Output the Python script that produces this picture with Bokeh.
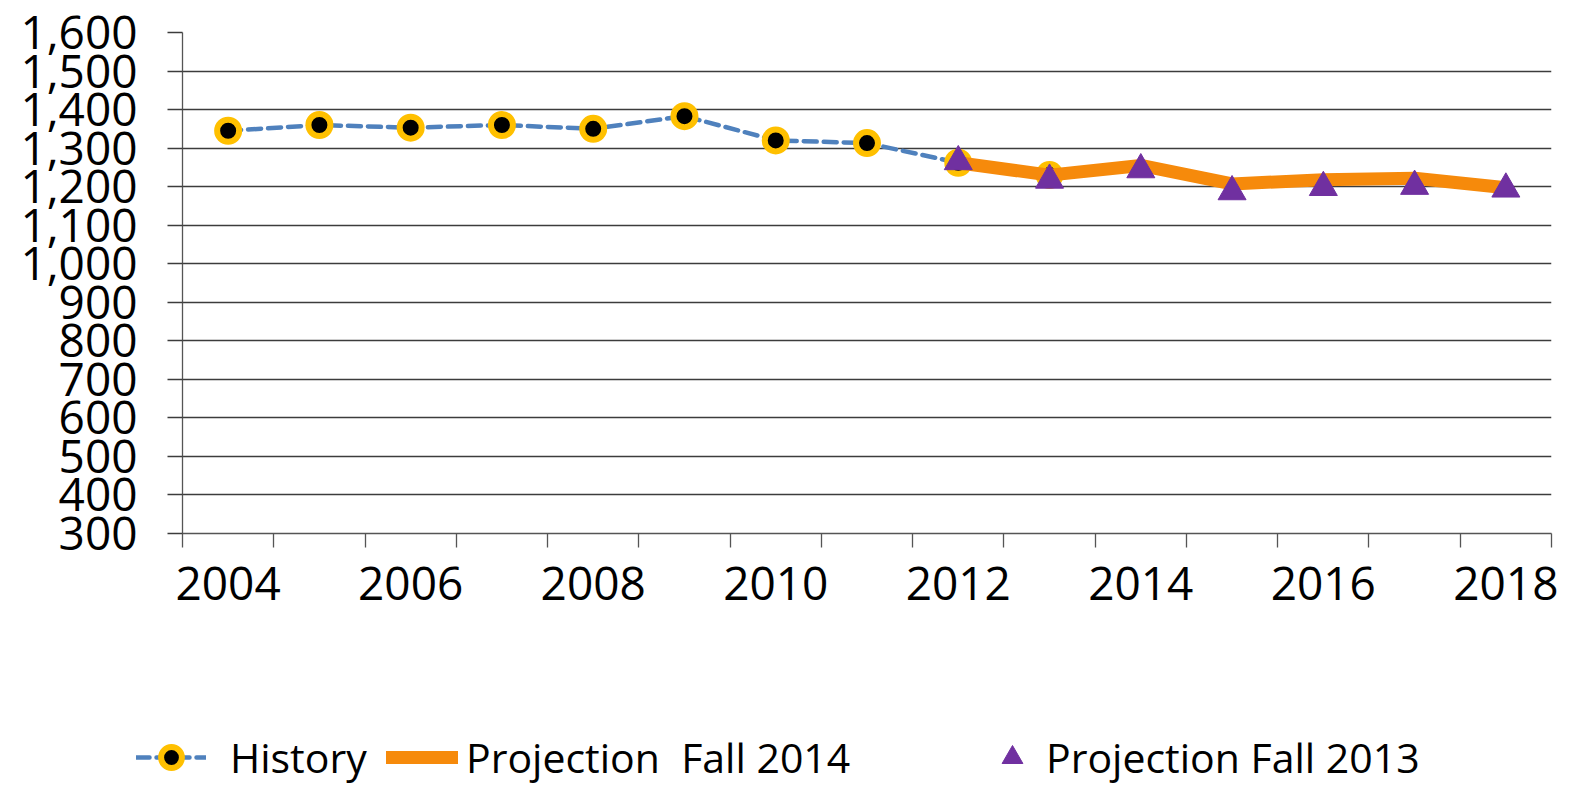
from bokeh.plotting import figure
from bokeh.models import Range1d, FixedTicker, NumeralTickFormatter, Legend, LegendItem, ColumnDataSource
from bokeh.embed import file_html
from bokeh.resources import INLINE

# ---- data ----
hist_years = [2004, 2005, 2006, 2007, 2008, 2009, 2010, 2011, 2012, 2013]
hist_values = [1345, 1360, 1353, 1360, 1350, 1383, 1320, 1313, 1262, 1230]

proj14_years = [2012, 2013, 2014, 2015, 2016, 2017, 2018]
proj14_values = [1262, 1230, 1255, 1207, 1218, 1222, 1197]

proj13_years = [2012, 2013, 2014, 2015, 2016, 2017, 2018]
proj13_values = [1265, 1217, 1244, 1187, 1198, 1201, 1194]

label_years = [2004, 2006, 2008, 2010, 2012, 2014, 2016, 2018]
boundary_ticks = [y - 0.5 for y in range(2004, 2020)]
y_ticks = list(range(300, 1700, 100))

series_names = ["History", "Projection  Fall 2014", "Projection Fall 2013"]

FONT = "Open Sans"
GRID = "#3c3c3c"
AX = "#555555"
BLUE, YELLOW, ORANGE, PURPLE = "#4F81BD", "#FFC000", "#F68A0B", "#7030A0"

W = 1572
H1 = 700
FRAME_LEFT, FRAME_RIGHT, FRAME_TOP, FRAME_BOTTOM = 182, 1551, 32, 533

p = figure(width=W, height=H1, output_backend="svg", toolbar_location=None,
           x_range=Range1d(2003.5, 2018.5), y_range=Range1d(300, 1600),
           min_border_left=FRAME_LEFT, min_border_right=W - FRAME_RIGHT,
           min_border_top=FRAME_TOP, min_border_bottom=H1 - FRAME_BOTTOM)
p.outline_line_color = None
p.xgrid.grid_line_color = None
p.ygrid.grid_line_color = GRID
p.ygrid.grid_line_width = 1.3
p.ygrid.ticker = FixedTicker(ticks=y_ticks)

# y axis
p.yaxis.ticker = FixedTicker(ticks=y_ticks)
p.yaxis.formatter = NumeralTickFormatter(format="0,0")
p.yaxis.major_tick_out = 15
p.yaxis.major_tick_in = 0
p.yaxis.minor_tick_line_color = None
p.yaxis.major_tick_line_color = GRID
p.yaxis.major_tick_line_width = 1.3
p.yaxis.axis_line_color = AX
p.yaxis.axis_line_width = 1.3
p.yaxis.major_label_standoff = 30
p.yaxis.major_label_text_font = FONT
p.yaxis.major_label_text_font_size = "46px"
p.yaxis.major_label_text_color = "black"

# x axis
p.xaxis.ticker = FixedTicker(ticks=label_years, minor_ticks=boundary_ticks)
p.xaxis.major_tick_line_color = None
p.xaxis.major_tick_out = 14
p.xaxis.major_tick_in = 0
p.xaxis.minor_tick_out = 14
p.xaxis.minor_tick_in = 0
p.xaxis.minor_tick_line_color = AX
p.xaxis.minor_tick_line_width = 1.3
p.xaxis.axis_line_color = AX
p.xaxis.axis_line_width = 1.3
p.xaxis.major_label_standoff = 19
p.xaxis.major_label_text_font = FONT
p.xaxis.major_label_text_font_size = "46px"
p.xaxis.major_label_text_color = "black"

hist_src = ColumnDataSource(dict(x=hist_years, y=hist_values))
p14_src = ColumnDataSource(dict(x=proj14_years, y=proj14_values))
p13_src = ColumnDataSource(dict(x=proj13_years, y=proj13_values))

line_hist = dict(line_color=BLUE, line_width=4.5, line_dash="13 7", line_cap="round")
mark_hist = dict(marker="circle", size=22, fill_color="black", line_color=YELLOW, line_width=6)
line_p14 = dict(line_color=ORANGE, line_width=13)
mark_p13 = dict(marker="triangle", size=28, fill_color=PURPLE, line_color=PURPLE, line_width=1)

p.line("x", "y", source=hist_src, **line_hist)
p.scatter("x", "y", source=hist_src, **mark_hist)
p.line("x", "y", source=p14_src, **line_p14)
p.scatter("x", "y", source=p13_src, **mark_p13)

# ---- legend strip: separate root below the chart. Its renderers reuse the series
# sources, but its ranges exclude the data, so only the legend keys show. ----
H2 = 85
lg = figure(width=W, height=H2, output_backend="svg", toolbar_location=None,
            x_axis_type=None, y_axis_type=None, x_range=Range1d(0, 1), y_range=Range1d(0, 1),
            min_border_left=0, min_border_right=0, min_border_top=0, min_border_bottom=0)
lg.outline_line_color = None
lg.grid.grid_line_color = None
r_hl = lg.line("x", "y", source=hist_src, **line_hist)
r_hm = lg.scatter("x", "y", source=hist_src, **mark_hist)
r_pl = lg.line("x", "y", source=p14_src, **dict(line_p14, line_cap="round"))
r_pm = lg.scatter("x", "y", source=p13_src, **mark_p13)

LEG_H = 52
LEG_TOP = 733 - H1   # top of legend row inside the strip
vy = H2 - LEG_TOP - LEG_H
common = dict(orientation="horizontal", glyph_height=LEG_H, padding=0, margin=0,
              border_line_color=None, background_fill_alpha=0,
              label_text_font=FONT, label_text_font_size="41px", label_text_color="black",
              label_height=LEG_H)
specs = [
    (series_names[0], [r_hl, r_hm], 136, 70, 24),
    (series_names[1], [r_pl], 386, 72, 8),
    (series_names[2], [r_pm], 986, 52, 8),
]
for lab, rends, x0, gw, so in specs:
    lg.add_layout(Legend(items=[LegendItem(label=lab, renderers=rends)],
                         location=(x0, vy), glyph_width=gw, label_standoff=so, **common))

open("out.html", "w").write(file_html([p, lg], INLINE))
